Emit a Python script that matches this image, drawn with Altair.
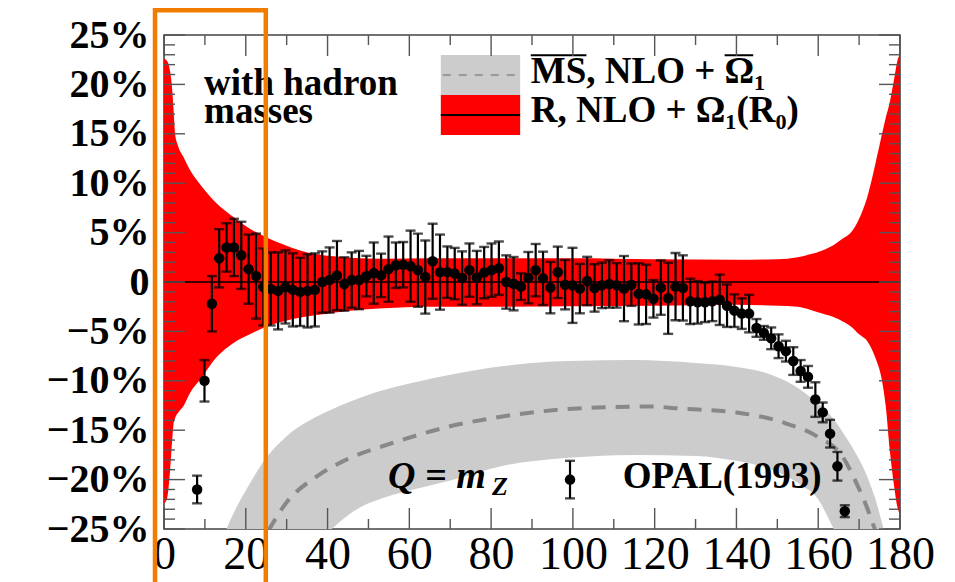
import altair as alt
import pandas as pd

# ---------------- data ----------------
opal_x = [8.1, 9.9, 11.7, 13.5, 15.3, 17.1, 18.9, 20.7, 22.5, 24.3, 26.1, 27.9, 29.7, 31.5,
          33.3, 35.1, 36.9, 38.7, 40.5, 42.3, 44.1, 45.9, 47.7, 49.5, 51.3, 53.1, 54.9, 56.7,
          58.5, 60.3, 62.1, 63.9, 65.7, 67.5, 69.3, 71.1, 72.9, 74.7, 76.5, 78.3, 80.1, 81.9,
          83.7, 85.5, 87.3, 89.1, 90.9, 92.7, 94.5, 96.3, 98.1, 99.9, 101.7, 103.5, 105.3,
          107.1, 108.9, 110.7, 112.5, 114.3, 116.1, 117.9, 119.7, 121.5, 123.3, 125.1, 126.9,
          128.7, 130.5, 132.3, 134.1, 135.9, 137.7, 139.5, 141.3, 143.1, 144.9, 146.7, 148.5,
          150.3, 152.1, 153.9, 155.7, 157.5, 159.3, 161.1, 162.9, 164.7, 166.5]
opal_y = [-21.0, -10.0, -2.2, 2.4, 3.5, 3.5, 2.7, 1.3, 0.6, -0.5, -0.7, -0.9, -0.5, -0.8,
          -1.0, -0.9, -0.8, 0.0, 0.2, 0.65, -0.2, 0.2, 0.2, 0.6, 0.9, 0.67, 1.3, 1.7,
          1.75, 1.6, 1.2, 0.5, 2.1, 1.0, 1.0, 0.85, 0.4, 1.2, 0.45, 0.95, 1.2, 1.4,
          0.0, -0.17, -0.47, 0.44, 1.2, 0.37, -0.57, 0.98, -0.27, -0.34, -0.67, 0.1, -0.6,
          -0.34, -0.2, -0.34, -0.67, -0.27, -1.2, -1.25, -1.7, -0.57, -1.65, -0.47, -0.6,
          -1.96, -2.06, -2.06, -1.96, -1.8, -2.4, -2.9, -3.2, -3.2, -4.65, -5.15, -5.7,
          -6.5, -7.0, -8.0, -9.0, -9.6, -11.9, -13.2, -15.35, -18.65, -23.2]
opal_err = [1.4, 2.1, 2.8, 2.95, 2.45, 2.9, 3.4, 3.5, 4.3, 3.9, 3.7, 3.9, 3.7, 3.7,
            3.45, 3.7, 3.7, 3.1, 3.3, 3.5, 2.7, 2.8, 2.95, 2.05, 3.1, 2.2, 3.3, 2.3,
            2.3, 3.6, 3.7, 3.7, 3.8, 3.8, 2.6, 2.6, 2.7, 2.7, 2.7, 2.6, 2.7, 2.7,
            2.7, 2.7, 1.35, 2.6, 2.65, 2.7, 2.6, 2.6, 2.5, 3.8, 2.5, 2.45, 2.4,
            2.3, 2.4, 2.25, 3.3, 2.15, 3.1, 3.0, 1.9, 2.75, 3.6, 3.4, 3.3,
            2.3, 2.15, 2.0, 2.0, 2.55, 2.15, 1.65, 1.55, 1.9, 0.9, 0.7, 1.1,
            1.2, 1.05, 1.4, 1.1, 1.1, 1.75, 1.0, 1.4, 1.45, 0.6]

red_x = [0, 0.7, 1.5, 2.0, 2.3, 2.7, 3.5, 4.7, 6.4, 8.8, 12.9, 16.9, 21, 25.1, 29.2, 33.3,
         37.3, 41.4, 45.5, 53.6, 65, 80, 100, 120, 140, 150, 155, 158, 161, 164, 166, 168,
         170, 172, 174, 175.5, 176.5, 177.5, 178.5, 179.5, 180]
red_upper = [22.6, 22.4, 21.3, 19.5, 17.7, 15.0, 13.7, 12.7, 11.3, 9.9, 7.95, 6.6, 5.4, 4.5,
             3.8, 3.2, 2.8, 2.6, 2.45, 2.35, 2.4, 2.4, 2.4, 2.3, 2.25, 2.3, 2.5, 2.8, 3.2,
             3.8, 4.4, 5.0, 6.4, 8.6, 12.0, 14.8, 16.6, 18.2, 20.4, 22.6, 23.0]
red_lower = [-22.4, -22.0, -19.0, -16.0, -14.5, -13.8, -13.2, -12.6, -11.2, -9.9, -7.6, -6.2,
             -5.3, -4.5, -4.0, -3.6, -3.35, -3.1, -2.9, -2.65, -2.5, -2.5, -2.45, -2.4, -2.3,
             -2.4, -2.5, -2.8, -3.2, -3.6, -4.0, -4.5, -5.3, -6.0, -7.7, -9.8, -12.5, -17.0,
             -20.5, -23.0, -23.5]

gray_x = [14, 15.3, 18, 21, 25, 30, 37, 41, 45, 50, 54, 62, 70, 83, 99, 115, 130, 140, 148,
          152, 156, 160, 162, 164, 166, 169, 172, 174, 176, 177]
gray_upper = [-26.5, -25.0, -22.6, -20.4, -17.8, -15.6, -13.7, -12.9, -12.2, -11.4, -10.9,
              -10.1, -9.4, -8.5, -8.0, -7.9, -8.2, -8.6, -9.3, -10.0, -11.0, -12.3, -13.0,
              -14.0, -15.2, -17.2, -19.7, -22.0, -25.0, -26.5]
gray_lower = [-36, -35.5, -34.5, -33, -31, -29, -26.6, -25.0, -23.6, -22.4, -21.8, -20.9,
              -20.1, -18.6, -17.8, -17.5, -17.6, -18.1, -18.9, -19.6, -20.6, -22.0, -23.5,
              -25.2, -27, -30, -33, -35, -37, -38]

dash_x = [25.5, 30, 37.3, 45, 53.6, 62, 70, 80, 90, 106, 119, 126, 140, 152, 160, 166,
          169.4, 171.8, 174]
dash_y = [-25.2, -22.3, -19.7, -17.9, -16.6, -15.5, -14.6, -13.8, -13.2, -12.7, -12.6,
          -12.8, -13.2, -14.3, -15.7, -17.7, -20.4, -22.7, -25.2]

x_major = [0, 20, 40, 60, 80, 100, 120, 140, 160, 180]
x_minor = [10, 30, 50, 70, 90, 110, 130, 150, 170]
y_major = [-25, -20, -15, -10, -5, 0, 5, 10, 15, 20, 25]
y_minor = [v for v in range(-24, 25) if v % 5 != 0]

W, H = 736, 494
XS = alt.Scale(domain=[0, 180], nice=False, zero=False)
YS = alt.Scale(domain=[-25, 25], nice=False, zero=False)

pts = pd.DataFrame({"x": opal_x, "y": opal_y, "err": opal_err})
pts["lo"] = pts["y"] - pts["err"]
pts["hi"] = pts["y"] + pts["err"]
red = pd.DataFrame({"x": red_x, "u": red_upper, "l": red_lower})
gray = pd.DataFrame({"x": gray_x, "u": gray_upper, "l": gray_lower})
dash = pd.DataFrame({"x": dash_x, "y": dash_y})

SERIF = "Liberation Serif"

gray_band = alt.Chart(gray).mark_area(color="#cccccc", interpolate="monotone", clip=True).encode(
    x=alt.X("x:Q", scale=XS, axis=alt.Axis(values=x_major, title=None, domain=False, ticks=False,
                                           tickSize=0, grid=False, labelFont=SERIF,
                                           labelFontSize=46, labelColor="black", labelPadding=3,
                                           labelFlush=False)),
    y=alt.Y("u:Q", scale=YS, axis=alt.Axis(values=y_major, title=None, domain=False, ticks=False,
                                           tickSize=0, grid=False, labelFont=SERIF,
                                           labelFontWeight="bold", labelFontSize=40,
                                           labelColor="black", labelPadding=15,
                                           labelExpr="datum.value == 0 ? '0' : (datum.value < 0 ? '\u2212' + abs(datum.value) + '%' : datum.value + '%')")),
    y2="l:Q",
)
dash_line = alt.Chart(dash).mark_line(color="#888888", strokeWidth=4, strokeDash=[14, 10],
                                      interpolate="monotone", clip=True).encode(
    x=alt.X("x:Q", scale=XS), y=alt.Y("y:Q", scale=YS))
red_band = alt.Chart(red).mark_area(color="#ff0000", interpolate="monotone", clip=True).encode(
    x=alt.X("x:Q", scale=XS), y=alt.Y("u:Q", scale=YS), y2="l:Q")
zero_line = alt.Chart(pd.DataFrame({"y": [0]})).mark_rule(color="black", strokeWidth=1.5).encode(
    y=alt.Y("y:Q", scale=YS))

bars = alt.Chart(pts).mark_rule(color="black", strokeWidth=2.2, clip=True).encode(
    x=alt.X("x:Q", scale=XS), y=alt.Y("lo:Q", scale=YS), y2="hi:Q")
cap_lo = alt.Chart(pts).mark_tick(color="black", orient="horizontal", size=10, thickness=2.4).encode(
    x=alt.X("x:Q", scale=XS), y=alt.Y("lo:Q", scale=YS))
cap_hi = alt.Chart(pts).mark_tick(color="black", orient="horizontal", size=10, thickness=2.4).encode(
    x=alt.X("x:Q", scale=XS), y=alt.Y("hi:Q", scale=YS))
dots = alt.Chart(pts).mark_point(filled=True, color="black", size=110, opacity=1).encode(
    x=alt.X("x:Q", scale=XS), y=alt.Y("y:Q", scale=YS))

# legend sample for OPAL
leg_pt = pd.DataFrame({"x": [99.3], "y": [-20.0], "lo": [-21.9], "hi": [-18.1]})
leg_bar = alt.Chart(leg_pt).mark_rule(color="black", strokeWidth=2.2).encode(
    x=alt.X("x:Q", scale=XS), y=alt.Y("lo:Q", scale=YS), y2="hi:Q")
leg_caps = alt.Chart(leg_pt).transform_fold(["lo", "hi"], as_=["k", "v"]).mark_tick(
    color="black", orient="horizontal", size=10, thickness=2.4).encode(
    x=alt.X("x:Q", scale=XS), y=alt.Y("v:Q", scale=YS))
leg_dot = alt.Chart(leg_pt).mark_point(filled=True, color="black", size=110, opacity=1).encode(
    x=alt.X("x:Q", scale=XS), y=alt.Y("y:Q", scale=YS))

# legend boxes (data coordinates)
leg_boxes = pd.DataFrame({"x": [67.7, 67.7], "x2": [87.1, 87.1], "y": [22.98, 18.93],
                          "y2": [18.93, 14.88], "c": ["#cccccc", "#ff0000"]})
boxes = alt.Chart(leg_boxes).mark_rect().encode(
    x=alt.X("x:Q", scale=XS), x2="x2:Q", y=alt.Y("y:Q", scale=YS), y2="y2:Q",
    color=alt.Color("c:N", scale=None))
leg_dash = alt.Chart(pd.DataFrame({"x": [68.2], "x2": [86.6], "y": [20.95]})).mark_rule(
    color="#888888", strokeWidth=1.6, strokeDash=[8, 8]).encode(
    x=alt.X("x:Q", scale=XS), x2="x2:Q", y=alt.Y("y:Q", scale=YS))
leg_solid = alt.Chart(pd.DataFrame({"x": [67.7], "x2": [87.1], "y": [16.9]})).mark_rule(
    color="black", strokeWidth=2).encode(
    x=alt.X("x:Q", scale=XS), x2="x2:Q", y=alt.Y("y:Q", scale=YS))
# overlines of MS-bar and Omega-bar
overlines = alt.Chart(pd.DataFrame({"x": [89.7, 137.1], "x2": [103.3, 144.1],
                                    "y": [22.95, 22.95]})).mark_rule(
    color="black", strokeWidth=2).encode(
    x=alt.X("x:Q", scale=XS), x2="x2:Q", y=alt.Y("y:Q", scale=YS))


def label(txt, x, y, size, italic=False, weight="bold", align="left"):
    return alt.Chart(pd.DataFrame({"x": [x], "y": [y], "t": [txt]})).mark_text(
        align=align, baseline="alphabetic", font=SERIF, fontSize=size, fontWeight=weight,
        fontStyle="italic" if italic else "normal", color="black").encode(
        x=alt.X("x:Q", scale=XS), y=alt.Y("y:Q", scale=YS), text="t:N")


texts = [
    label("with hadron", 9.8, 18.9, 37),
    label("masses", 9.8, 16.06, 37),
    label("MS, NLO + \u03a9\u2081", 89.7, 20.1, 37),
    label("R, NLO + \u03a9\u2081(R\u2080)", 89.7, 16.2, 37),
    label("Q  =  m", 54.8, -20.9, 38, italic=True),
    label("Z", 80.2, -21.6, 26, italic=True),
    label("OPAL(1993)", 112.2, -20.9, 37),
]

# inward ticks
def xticks(vals, length, top):
    df = pd.DataFrame({"x": vals})
    if top:
        enc = dict(y=alt.value(0), y2=alt.value(length))
    else:
        enc = dict(y=alt.value(H), y2=alt.value(H - length))
    return alt.Chart(df).mark_rule(color="#555555", strokeWidth=1.4).encode(
        x=alt.X("x:Q", scale=XS), **enc)


def yticks(vals, length, right):
    df = pd.DataFrame({"y": vals})
    if right:
        enc = dict(x=alt.value(W), x2=alt.value(W - length))
    else:
        enc = dict(x=alt.value(0), x2=alt.value(length))
    return alt.Chart(df).mark_rule(color="#555555", strokeWidth=1.4).encode(
        y=alt.Y("y:Q", scale=YS), **enc)


ticks = [xticks(x_major, 21, False), xticks(x_minor, 10, False),
         xticks(x_major, 21, True), xticks(x_minor, 10, True),
         yticks(y_major, 21, False), yticks(y_minor, 11, False),
         yticks(y_major, 21, True), yticks(y_minor, 11, True)]

# orange highlight box
hl = pd.DataFrame({"x": [-2.2], "x2": [24.9], "y": [27.5], "y2": [-33.0]})
highlight = alt.Chart(hl).mark_rect(fillOpacity=0, stroke="#f07c00", strokeWidth=4.5,
                                    clip=False).encode(
    x=alt.X("x:Q", scale=XS), x2="x2:Q", y=alt.Y("y:Q", scale=YS), y2="y2:Q")

chart = alt.layer(
    gray_band, dash_line, red_band, zero_line, bars, cap_lo, cap_hi, dots,
    boxes, leg_dash, leg_solid, overlines, leg_bar, leg_caps, leg_dot, *texts, *ticks, highlight
).properties(
    width=W, height=H,
    autosize=alt.AutoSizeParams(type="none"),
    padding={"left": 164, "top": 35, "right": 55, "bottom": 53},
    background="white",
).configure_view(stroke="#444444", strokeWidth=1.6)

chart.save("out.html", embed_options={"renderer": "svg", "actions": False})
